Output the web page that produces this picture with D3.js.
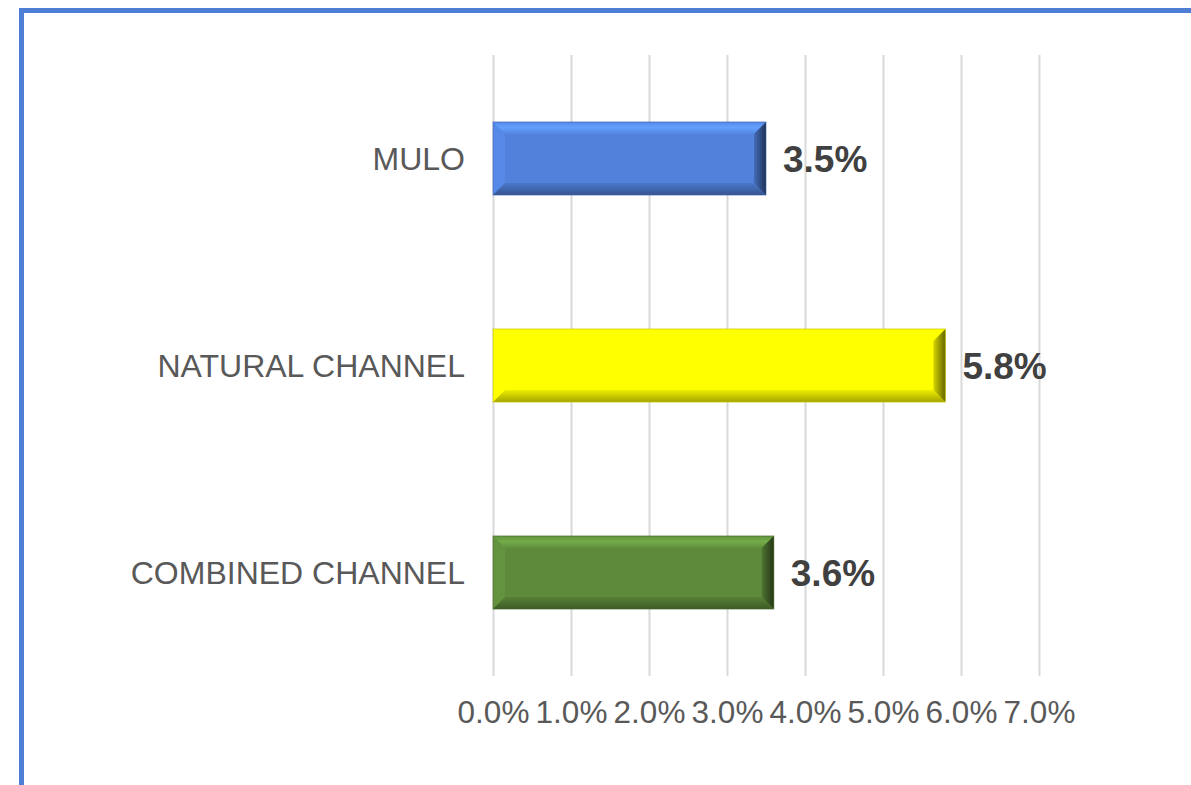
<!DOCTYPE html>
<html>
<head>
<meta charset="utf-8">
<script src="https://cdn.jsdelivr.net/npm/d3@7"></script>
<style>
  body { margin: 0; background: #fff; }
  svg { display: block; font-family: Arial, "Liberation Sans", sans-serif; }
</style>
</head>
<body>
<div id="chart"></div>
<script>
// chart data
const categories = ["MULO", "NATURAL CHANNEL", "COMBINED CHANNEL"];
const values = [0.035, 0.058, 0.036];
const tickValues = [0, 0.01, 0.02, 0.03, 0.04, 0.05, 0.06, 0.07];
const barColors = ["#5181db", "#ffff00", "#5e8b3b"];

const width = 1191;
const height = 785;
const plot = {left: 493, right: 1039, top: 55, bottom: 676};
const bevel = 12;

const svg = d3.select("#chart")
  .append("svg")
  .attr("width", width)
  .attr("height", height);

// frame lines on top and left
svg.append("path")
  .attr("d", `M21.5,785 L21.5,10.5 L1191,10.5`)
  .attr("fill", "none")
  .attr("stroke", "#4e7fd5")
  .attr("stroke-width", 5);

const x = d3.scaleLinear()
  .domain([0, 0.07])
  .range([plot.left, plot.right]);

const y = d3.scaleBand()
  .domain(categories)
  .range([plot.top, plot.bottom])
  .paddingInner(0.647)
  .paddingOuter(0.3235);

// gridlines + tick labels
const xAxis = svg.append("g")
  .attr("transform", `translate(0,${plot.bottom})`)
  .call(d3.axisBottom(x)
    .tickValues(tickValues)
    .tickFormat(d3.format(".1%"))
    .tickSize(-(plot.bottom - plot.top)));

xAxis.select(".domain").remove();
xAxis.selectAll(".tick line")
  .attr("stroke", "#d9d9d9")
  .attr("stroke-width", 2);
xAxis.selectAll(".tick text")
  .attr("y", 47)
  .attr("dy", null)
  .attr("fill", "#595959")
  .attr("font-size", "31.5px");

// gradients for the bevel faces
const defs = svg.append("defs");
barColors.forEach((c, i) => {
  const base = d3.color(c);
  const top = defs.append("linearGradient")
    .attr("id", "top" + i).attr("x1", 0).attr("y1", 0).attr("x2", 0).attr("y2", 1);
  top.append("stop").attr("offset", "0%").attr("stop-color", base.brighter(0.15));
  top.append("stop").attr("offset", "45%").attr("stop-color", base.brighter(0.6));
  top.append("stop").attr("offset", "100%").attr("stop-color", base.brighter(0.1));

  const right = defs.append("linearGradient")
    .attr("id", "right" + i).attr("x1", 0).attr("y1", 0).attr("x2", 1).attr("y2", 0);
  right.append("stop").attr("offset", "0%").attr("stop-color", base.darker(0.5));
  right.append("stop").attr("offset", "100%").attr("stop-color", base.darker(2.6));

  const bottom = defs.append("linearGradient")
    .attr("id", "bottom" + i).attr("x1", 0).attr("y1", 0).attr("x2", 0).attr("y2", 1);
  bottom.append("stop").attr("offset", "0%").attr("stop-color", base.darker(0.2));
  bottom.append("stop").attr("offset", "100%").attr("stop-color", base.darker(1.2));
});

const rows = categories.map((name, i) => ({name: name, value: values[i], i: i}));

const bars = svg.selectAll(".bar")
  .data(rows)
  .enter()
  .append("g")
  .attr("class", "bar");

bars.each(function(d) {
  const g = d3.select(this);
  const x0 = x(0), x1 = x(d.value);
  const y0 = y(d.name), y1 = y(d.name) + y.bandwidth();
  const base = d3.color(barColors[d.i]);

  // main face
  g.append("rect")
    .attr("x", x0).attr("y", y0)
    .attr("width", x1 - x0).attr("height", y1 - y0)
    .attr("fill", base);
  // left face
  g.append("path")
    .attr("d", `M${x0},${y0}L${x0 + bevel},${y0 + bevel}L${x0 + bevel},${y1 - bevel}L${x0},${y1}Z`)
    .attr("fill", base.brighter(0.15));
  // top face
  g.append("path")
    .attr("d", `M${x0},${y0}L${x1},${y0}L${x1 - bevel},${y0 + bevel}L${x0 + bevel},${y0 + bevel}Z`)
    .attr("fill", `url(#top${d.i})`);
  // bottom face
  g.append("path")
    .attr("d", `M${x0},${y1}L${x0 + bevel},${y1 - bevel}L${x1 - bevel},${y1 - bevel}L${x1},${y1}Z`)
    .attr("fill", `url(#bottom${d.i})`);
  // right face
  g.append("path")
    .attr("d", `M${x1},${y0}L${x1},${y1}L${x1 - bevel},${y1 - bevel}L${x1 - bevel},${y0 + bevel}Z`)
    .attr("fill", `url(#right${d.i})`);
  // thin outline
  g.append("rect")
    .attr("x", x0).attr("y", y0)
    .attr("width", x1 - x0).attr("height", y1 - y0)
    .attr("fill", "none")
    .attr("stroke", base.darker(0.8))
    .attr("stroke-opacity", 0.6)
    .attr("stroke-width", 1);
});

// category labels
svg.selectAll(".cat")
  .data(rows)
  .enter()
  .append("text")
  .attr("class", "cat")
  .attr("x", 465)
  .attr("y", d => y(d.name) + y.bandwidth() / 2 + 11)
  .attr("text-anchor", "end")
  .attr("fill", "#595959")
  .attr("font-size", "32px")
  .text(d => d.name);

// value labels
svg.selectAll(".val")
  .data(rows)
  .enter()
  .append("text")
  .attr("class", "val")
  .attr("x", d => x(d.value) + 17)
  .attr("y", d => y(d.name) + y.bandwidth() / 2 + 13)
  .attr("fill", "#404040")
  .attr("font-size", "37px")
  .attr("font-weight", "bold")
  .text(d => d3.format(".1%")(d.value));
</script>
</body>
</html>
